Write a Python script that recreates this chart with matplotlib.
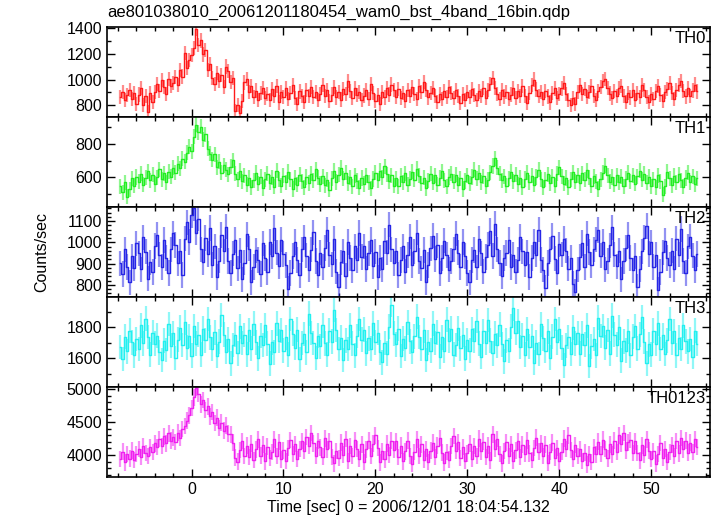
import numpy as np
import matplotlib
matplotlib.use("Agg")
import matplotlib.pyplot as plt
from matplotlib.ticker import MultipleLocator

plt.rcParams['font.family'] = ['Liberation Sans', 'DejaVu Sans']

title = "ae801038010_20061201180454_wam0_bst_4band_16bin.qdp"
xlabel = "Time [sec] 0 = 2006/12/01 18:04:54.132"
ylabel = "Counts/sec"

# 0.25 s bins, first bin centre at -7.75 s
bin_width = 0.25
t0 = -7.75

# one row = 2 s (8 bins)
th0 = [
    862, 905, 838, 880, 921, 846, 899, 811,
    884, 936, 802, 871, 748, 893, 829, 905,
    968, 912, 997, 941, 885, 1002, 948, 975,
    1018, 960, 1072, 1024, 1205, 1088, 1152, 1190,
    1245, 1392, 1268, 1305, 1196, 1232, 1078, 1125,
    1012, 968, 1055, 989, 1038, 946, 1102, 1066,
    982, 1010, 758, 803, 742, 835, 978, 1008,
    902, 951, 868, 915, 842, 893, 937, 858,
    889, 842, 925, 871, 948, 822, 905, 866,
    931, 847, 896, 958, 854, 812, 908, 873,
    826, 918, 874, 941, 862, 905, 838, 890,
    959, 872, 917, 835, 884, 946, 861, 902,
    845, 927, 889, 987, 912, 854, 931, 878,
    903, 841, 876, 922, 851, 968, 898, 836,
    879, 813, 906, 861, 938, 884, 962, 917,
    866, 929, 857, 894, 832, 918, 871, 940,
    888, 846, 953, 902, 979, 917, 861, 898,
    934, 872, 826, 891, 852, 913, 868, 944,
    897, 856, 918, 873, 821, 886, 842, 905,
    862, 927, 881, 839, 908, 871, 936, 858,
    916, 968, 1012, 934, 889, 852, 917, 869,
    903, 846, 884, 931, 857, 912, 873, 948,
    872, 819, 893, 956, 1001, 923, 871, 906,
    848, 912, 869, 822, 894, 931, 857, 886,
    931, 974, 885, 838, 801, 857, 812, 902,
    958, 889, 925, 863, 907, 951, 874, 839,
    912, 946, 988, 1004, 937, 892, 858, 911,
    874, 932, 951, 873, 826, 895, 861, 918,
    844, 897, 862, 955, 916, 868, 829, 885,
    852, 913, 948, 881, 837, 903, 927, 972,
    894, 851, 922, 958, 987, 912, 869, 938,
    871, 915, 962, 908,
]

th1 = [
    548, 512, 571, 486, 529, 595, 552, 603,
    574, 621, 556, 598, 637, 582, 615, 561,
    602, 648, 589, 626, 571, 633, 604, 659,
    628, 683, 655, 712, 694, 748, 782, 756,
    842, 915, 868, 903, 824, 856, 772, 741,
    706, 738, 661, 694, 629, 672, 645, 618,
    664, 702, 623, 589, 641, 578, 612, 556,
    597, 541, 583, 628, 562, 604, 537, 589,
    623, 568, 601, 546, 639, 587, 552, 611,
    572, 634, 589, 531, 598, 556, 617, 578,
    542, 603, 567, 621, 584, 649, 598, 561,
    607, 553, 586, 528, 594, 641, 573, 615,
    658, 592, 628, 564, 601, 547, 612, 579,
    538, 597, 561, 614, 572, 536, 591, 628,
    583, 641, 602, 667, 619, 578, 612, 551,
    596, 548, 609, 571, 625, 557, 593, 634,
    587, 652, 609, 564, 598, 537, 581, 623,
    569, 612, 556, 597, 638, 584, 547, 603,
    621, 574, 615, 558, 596, 531, 579, 612,
    564, 603, 647, 592, 628, 571, 606, 549,
    587, 632, 668, 714, 659, 621, 583, 608,
    552, 596, 634, 578, 617, 559, 598, 543,
    591, 628, 572, 611, 556, 603, 647, 588,
    542, 586, 619, 567, 604, 551, 623, 661,
    608, 563, 597, 541, 589, 632, 575, 612,
    567, 624, 586, 643, 598, 552, 607, 574,
    531, 589, 627, 671, 612, 574, 603, 558,
    614, 572, 605, 548, 591, 629, 577, 613,
    562, 608, 641, 586, 623, 569, 604, 547,
    589, 542, 612, 576, 498, 547, 634, 596,
    553, 609, 571, 618, 584, 546, 597, 629,
    572, 608, 559, 594,
]

th2 = [
    902, 851, 967, 884, 812, 935, 878, 996,
    948, 873, 1024, 957, 829, 906, 861, 983,
    1037, 942, 884, 1012, 926, 857, 968, 1043,
    987, 902, 958, 846, 1018, 1094, 1003, 1128,
    1162, 1046, 1112, 968, 907, 1021, 946, 1068,
    893, 982, 837, 914, 1036, 958, 1074, 912,
    856, 947, 1012, 878, 963, 826, 905, 1038,
    971, 812, 884, 963, 918, 852, 996, 927,
    861, 1003, 934, 1068, 952, 887, 1013, 946,
    894, 783, 857, 936, 1002, 918, 845, 967,
    1024, 938, 872, 966, 1047, 913, 846, 952,
    884, 973, 1061, 942, 897, 1018, 863, 792,
    906, 958, 842, 1003, 927, 868, 981, 916,
    1045, 932, 981, 874, 949, 1013, 888, 957,
    836, 927, 873, 1006, 952, 1084, 968, 902,
    961, 847, 918, 982, 863, 941, 1027, 894,
    958, 1046, 913, 878, 964, 812, 893, 972,
    1032, 921, 986, 854, 927, 1009, 941, 872,
    913, 968, 1041, 952, 884, 1002, 936, 857,
    812, 918, 964, 883, 1017, 948, 862, 931,
    987, 1053, 936, 1089, 968, 904, 843, 927,
    951, 1012, 884, 943, 862, 917, 1026, 958,
    896, 953, 838, 927, 1004, 942, 1061, 918,
    872, 786, 903, 967, 1031, 924, 858, 991,
    943, 1018, 962, 877, 928, 804, 768, 872,
    931, 997, 884, 1042, 956, 893, 967, 1013,
    1058, 938, 1002, 873, 912, 986, 1071, 943,
    887, 962, 826, 913, 974, 1036, 927, 868,
    937, 792, 874, 958, 1023, 1078, 946, 1001,
    884, 942, 776, 861, 953, 1008, 927, 894,
    962, 876, 1018, 943, 1063, 912, 857, 982,
    1027, 938, 871, 946,
]

th3 = [
    1672, 1594, 1738, 1643, 1776, 1701, 1618, 1723,
    1658, 1812, 1695, 1854, 1737, 1622, 1764, 1693,
    1746, 1638, 1587, 1712, 1653, 1821, 1679, 1762,
    1601, 1718, 1796, 1684, 1831, 1668, 1742, 1615,
    1808, 1692, 1751, 1623, 1789, 1716, 1852, 1734,
    1658, 1767, 1613, 1706, 1879, 1752, 1641, 1722,
    1567, 1684, 1751, 1632, 1806, 1698, 1749, 1625,
    1782, 1661, 1823, 1702, 1598, 1746, 1685, 1812,
    1694, 1563, 1702, 1638, 1826, 1711, 1779, 1648,
    1734, 1621, 1852, 1757, 1668, 1783, 1591, 1697,
    1755, 1638, 1887, 1762, 1697, 1601, 1744, 1676,
    1812, 1695, 1623, 1778, 1706, 1911, 1782, 1659,
    1733, 1588, 1714, 1659, 1812, 1694, 1617, 1743,
    1852, 1718, 1784, 1631, 1729, 1661, 1826, 1703,
    1764, 1637, 1572, 1698, 1629, 1803, 1946, 1757,
    1688, 1791, 1613, 1726, 1664, 1832, 1708, 1639,
    1741, 1868, 1736, 1658, 1779, 1587, 1702, 1648,
    1823, 1697, 1767, 1608, 1735, 1649, 1848, 1712,
    1789, 1621, 1684, 1793, 1663, 1752, 1596, 1717,
    1648, 1786, 1712, 1839, 1694, 1608, 1772, 1697,
    1846, 1713, 1632, 1758, 1682, 1816, 1689, 1578,
    1714, 1648, 1804, 1921, 1763, 1837, 1672, 1745,
    1623, 1788, 1674, 1742, 1571, 1699, 1626, 1818,
    1727, 1649, 1774, 1602, 1739, 1852, 1701, 1788,
    1667, 1553, 1682, 1737, 1626, 1798, 1692, 1763,
    1629, 1758, 1686, 1812, 1548, 1677, 1724, 1617,
    1862, 1743, 1808, 1667, 1781, 1628, 1874, 1752,
    1686, 1798, 1583, 1709, 1648, 1773, 1617, 1738,
    1807, 1661, 1754, 1866, 1707, 1566, 1688, 1621,
    1776, 1692, 1824, 1659, 1748, 1627, 1716, 1852,
    1698, 1772, 1618, 1733, 1659, 1811, 1708, 1643,
    1724, 1607, 1778, 1694,
]

th0123 = [
    3936, 4052, 3888, 4018, 3945, 4067, 3928, 4012,
    4093, 3967, 4138, 4031, 3982, 4115, 4046, 4178,
    4122, 4241, 4137, 4283, 4176, 4327, 4218, 4269,
    4197, 4338, 4256, 4392, 4438, 4521, 4602, 4714,
    4873, 5012, 4928, 4766, 4832, 4683, 4738, 4587,
    4652, 4486, 4568, 4412, 4491, 4369, 4446, 4322,
    4312, 4186, 3962, 3898, 4074, 4215, 3986, 4143,
    3968, 4172, 3924, 4087, 4236, 3991, 4158, 3902,
    4126, 3957, 4043, 4238, 3986, 4197, 3934, 4072,
    3912, 4108, 4231, 4016, 4164, 3938, 4093, 4215,
    4068, 4274, 4142, 4336, 4178, 3992, 4213, 4117,
    3976, 4251, 4087, 4212, 3968, 3874, 4061, 3953,
    4188, 4006, 4243, 3912, 4137, 3988, 4226, 4094,
    3942, 4163, 3897, 4084, 4218, 3986, 4171, 4296,
    4103, 3887, 4056, 3934, 4172, 3998, 4219, 4081,
    4206, 3968, 4142, 3902, 4054, 4217, 3986, 3861,
    4048, 4236, 3986, 4163, 3931, 4092, 3897, 4067,
    4188, 3972, 4141, 4257, 4036, 3884, 4049, 3932,
    4137, 4289, 4063, 4198, 3958, 4124, 3906, 4023,
    4172, 3943, 4136, 3987, 4248, 4057, 4203, 3968,
    4142, 3918, 4312, 4096, 4241, 4012, 3872, 4064,
    4193, 3982, 4167, 3916, 4071, 4208, 3967, 4158,
    4016, 4223, 4024, 3928, 4106, 4262, 4053, 4177,
    3986, 4158, 3879, 4047, 4186, 3962, 4103, 3904,
    4052, 4247, 4093, 4296, 4078, 3943, 4154, 3986,
    4088, 3912, 4036, 3856, 4012, 3897, 4121, 4008,
    4203, 4012, 4234, 4092, 3948, 4163, 4011, 4216,
    4048, 4296, 4168, 4331, 4072, 4192, 4231, 4034,
    4208, 4027, 3918, 4146, 4004, 4237, 4068, 3943,
    4061, 3868, 4012, 4183, 3962, 4094, 3892, 4042,
    4148, 3982, 4213, 4024, 4258, 4087, 4219, 4036,
    4186, 4048, 4243, 4122,
]

labels = ["TH0", "TH1", "TH2", "TH3", "TH0123"]
series = [th0, th1, th2, th3, th0123]
errors = [55, 45, 60, 80, 125]
colors = ["#ff1a1a", "#22ee22", "#2626e6", "#22f0f0", "#f020f0"]
ylims = [(709, 1410), (424, 960), (743, 1167), (1413, 1995), (3667, 5030)]
major = [200, 200, 100, 200, 500]
minor = [100, 100, 20, 100, 100]

fig = plt.figure(figsize=(7.17, 5.16), dpi=100)
left, right, top, bottom = 107/717, 710/717, 1 - 27/516, 1 - 477/516
h = (top - bottom) / 5

for i in range(5):
    ax = fig.add_axes([left, top - (i + 1) * h, right - left, h])
    y = np.array(series[i], dtype=float)
    t = t0 + bin_width * np.arange(len(y))
    ax.errorbar(t, y, yerr=errors[i], fmt='none', ecolor=colors[i],
                elinewidth=1.6, alpha=0.5)
    ax.step(t, y, where='mid', color=colors[i], lw=1.0)
    ax.set_xlim(-9.2, 56.4)
    ax.set_ylim(*ylims[i])
    ax.xaxis.set_major_locator(MultipleLocator(10))
    ax.xaxis.set_minor_locator(MultipleLocator(2))
    ax.yaxis.set_major_locator(MultipleLocator(major[i]))
    ax.yaxis.set_minor_locator(MultipleLocator(minor[i]))
    ax.tick_params(which='both', direction='in', top=True, right=True,
                   labelsize=11.5, width=1)
    ax.tick_params(which='major', length=6)
    ax.tick_params(which='minor', length=3)
    if i < 4:
        ax.tick_params(labelbottom=False)
    for s in ax.spines.values():
        s.set_linewidth(1.2)
    ax.text(0.993, 0.96, labels[i], transform=ax.transAxes, ha='right',
            va='top', fontsize=12)
    if i == 4:
        ax.set_xlabel(xlabel, fontsize=11.5, labelpad=2)

fig.text(left, 1 - 5/516, title, ha='left', va='top', fontsize=12)
fig.text(42/717, 1 - 252/516, ylabel, rotation=90, ha='center', va='center',
         fontsize=11.5)

fig.savefig("out.png", dpi=100)
